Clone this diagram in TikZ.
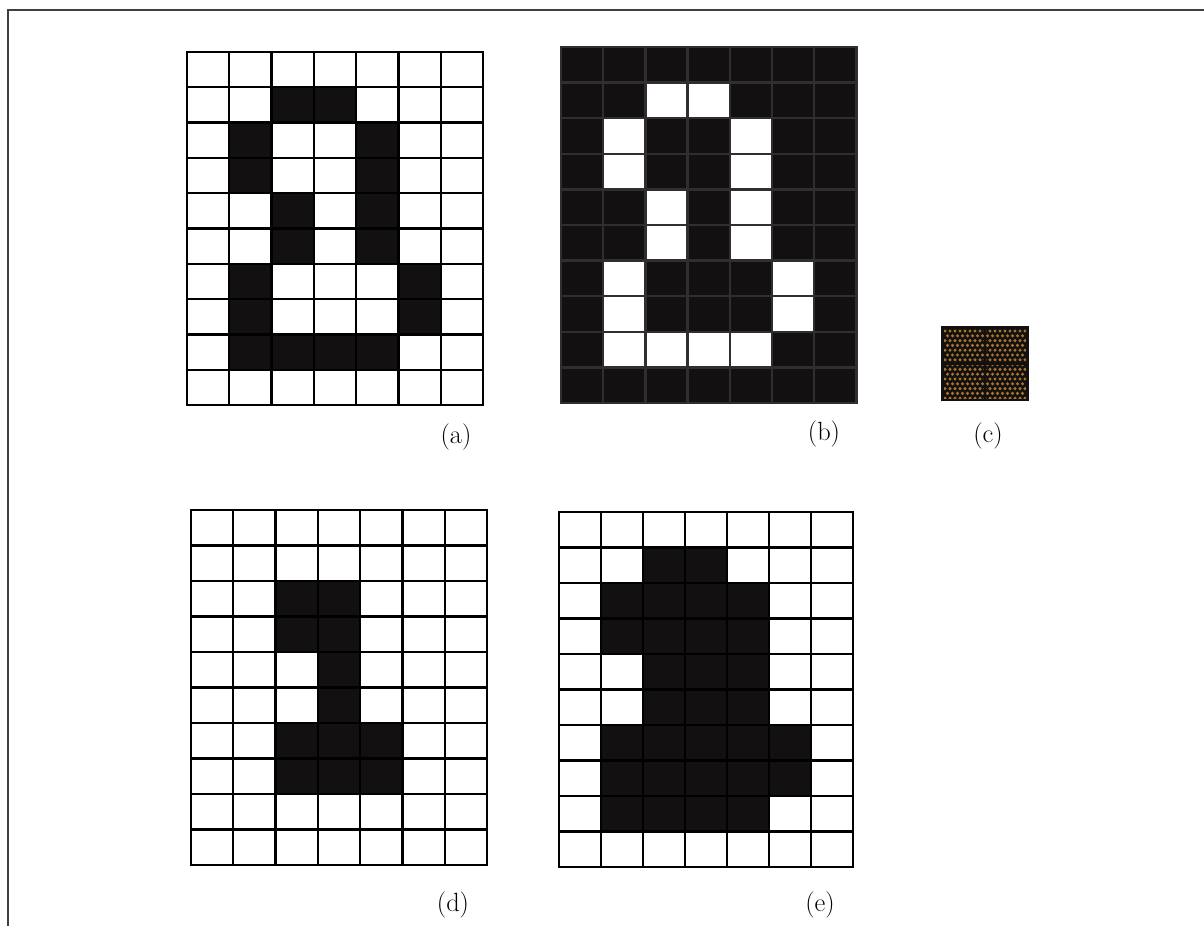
\documentclass[tikz,border=0pt]{standalone}
\usepackage{tikz}
\definecolor{dotbrown}{HTML}{A8742C}
\definecolor{inkblack}{HTML}{121010}
\definecolor{bgrid}{HTML}{302E2E}
\tikzset{
  gline/.style={line width=1.35pt, line cap=rect},
  lab/.style={font=\fontsize{15}{17}\selectfont, inner sep=0pt},
  frameline/.style={line width=1.1pt, draw=black!75},
}
% #1 x0, #2 y0, #3 cell w, #4 cell h, #5 cells r/c, #6 cell colour, #7 background, #8 line colour
\newcommand{\cellgrid}[8]{%
  \fill[#7] (#1,#2) rectangle ++({7*#3},{10*#4});
  \foreach \r/\c in {#5} {\fill[#6] ({#1+\c*#3},{#2+\r*#4}) rectangle ++(#3,#4);}
  \foreach \i in {0,...,7} {\draw[gline,#8] ({#1+\i*#3},#2) -- ++(0,{10*#4});}
  \foreach \j in {0,...,10} {\draw[gline,#8] (#1,{#2+\j*#4}) -- ++({7*#3},0);}
}
\begin{document}
\begin{tikzpicture}[x=0.02cm,y=-0.02cm]
\useasboundingbox (0,0) rectangle (1204,926);
\fill[white] (0,0) rectangle (1204,926);
% frame
\draw[frameline] (1204,10) -- (8,10) -- (8,926);
% (a)
\cellgrid{187}{52}{42.3}{35.3}{1/2,1/3,2/1,2/4,3/1,3/4,4/2,4/4,5/2,5/4,6/1,6/5,7/1,7/5,8/1,8/2,8/3,8/4}{inkblack}{white}{black}
% (b)
\cellgrid{561}{47}{42.2}{35.6}{1/2,1/3,2/1,2/4,3/1,3/4,4/2,4/4,5/2,5/4,6/1,6/5,7/1,7/5,8/1,8/2,8/3,8/4}{white}{inkblack}{bgrid}
% (c)
\fill[inkblack] (942,327) rectangle (1028,400);
\begin{scope}
\clip (944,329) rectangle (1026,398);
\foreach \j in {0,...,14} {
  \foreach \i in {0,...,17} {
    \pgfmathsetmacro{\xx}{945+\i*5.0+mod(\j,2)*2.5}
    \pgfmathsetmacro{\yy}{331+\j*4.8}
    \fill[dotbrown] (\xx,\yy) circle (1.7);
  }
}
\end{scope}
\draw[line width=1.3pt, inkblack] (985,327) -- (985,400);
\draw[line width=1.3pt, inkblack] (942,363.5) -- (1028,363.5);
\draw[line width=1pt, inkblack] (942,327) rectangle (1028,400);
% (d)
\cellgrid{191}{510}{42.3}{35.5}{2/2,2/3,3/2,3/3,4/3,5/3,6/2,6/3,6/4,7/2,7/3,7/4}{inkblack}{white}{black}
% (e)
\cellgrid{559}{512}{42.0}{35.5}{1/2,1/3,2/1,2/2,2/3,2/4,3/1,3/2,3/3,3/4,4/2,4/3,4/4,5/2,5/3,5/4,6/1,6/2,6/3,6/4,6/5,7/1,7/2,7/3,7/4,7/5,8/1,8/2,8/3,8/4}{inkblack}{white}{black}
% labels
\node[lab] (la) at (456,437) {(a)};
\node[lab] (lb) at (824,434) {(b)};
\node[lab] (lc) at (988,436) {(c)};
\node[lab] (ld) at (453,905) {(d)};
\node[lab] (le) at (820,905) {(e)};
\end{tikzpicture}
\end{document}
